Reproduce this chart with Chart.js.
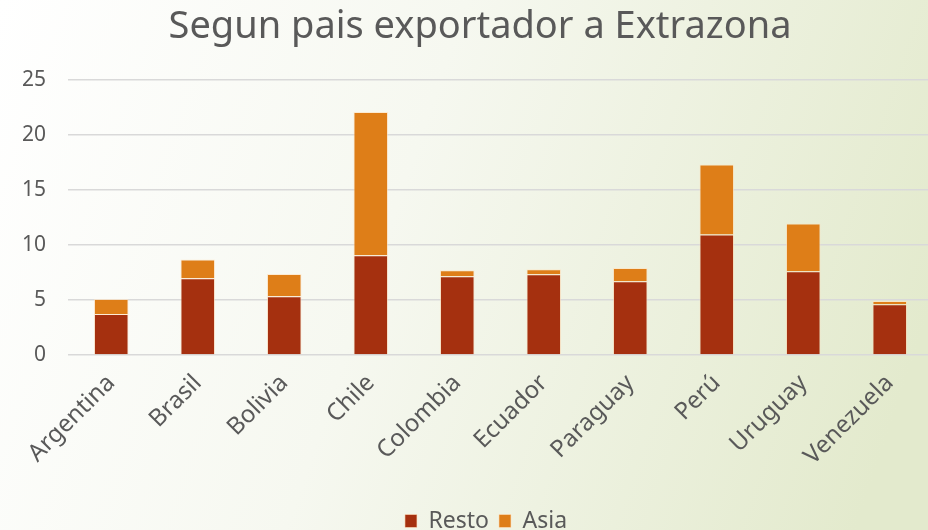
<!DOCTYPE html>
<html>
<head>
<meta charset="utf-8">
<script src="https://cdn.jsdelivr.net/npm/chart.js@4/dist/chart.umd.min.js"></script>
<style>
  html, body { margin: 0; padding: 0; background: #ffffff; }
</style>
</head>
<body>
<canvas id="chart" width="928" height="530"></canvas>
<script>
// ── Data ──────────────────────────────────────────────
var paises = ['Argentina', 'Brasil', 'Bolivia', 'Chile', 'Colombia',
              'Ecuador', 'Paraguay', 'Perú', 'Uruguay', 'Venezuela'];
var resto  = [3.73, 6.96, 5.33, 9.06, 7.15, 7.33, 6.70, 10.94, 7.60, 4.60];
var asia   = [1.36, 1.70, 2.03, 13.00, 0.55, 0.46, 1.20, 6.36, 4.34, 0.30];
var yTicks = [0, 5, 10, 15, 20, 25];

var colorResto = '#a5300f';
var colorAsia  = '#de7e18';
var textColor  = '#595959';
var fontFam    = '"Noto Sans", sans-serif';

// ── Background gradient ───────────────────────────────
var bgPlugin = {
    id: 'bg',
    beforeDraw: function (chart) {
        var c = chart.ctx;
        var g = c.createLinearGradient(0, 0, chart.width, chart.height * 0.6);
        g.addColorStop(0, '#ffffff');
        g.addColorStop(0.45, '#f6f8f0');
        g.addColorStop(1, '#e3eacd');
        c.save();
        c.fillStyle = g;
        c.fillRect(0, 0, chart.width, chart.height);
        c.restore();
    }
};

// ── Small layout nudges (plot runs slightly past right edge, legend lower) ──
var nudgePlugin = {
    id: 'nudge',
    afterLayout: function (chart) {
        var x = chart.scales.x;
        x.right += 5;
        x.width += 5;
        x.configure();
        var lg = chart.legend;
        var shift = 521 - (lg.top + lg.height / 2);
        lg.top += shift;
        lg.bottom += shift;
        lg.left += 22;
        lg.right += 22;
        chart.titleBlock.left += 16;
        chart.titleBlock.right += 16;
    }
};

new Chart(document.getElementById('chart'), {
    type: 'bar',
    data: {
        labels: paises,
        datasets: [
            { label: 'Resto', data: resto, backgroundColor: colorResto,
              borderColor: 'rgba(255,225,190,0.6)', borderWidth: 1 },
            { label: 'Asia',  data: asia,  backgroundColor: colorAsia,
              borderColor: 'rgba(255,225,190,0.6)', borderWidth: 1 }
        ]
    },
    options: {
        responsive: false,
        animation: false,
        devicePixelRatio: 1,
        datasets: { bar: { barPercentage: 0.4, categoryPercentage: 1 } },
        plugins: {
            title: {
                display: true,
                text: 'Segun pais exportador a Extrazona',
                color: textColor,
                font: { family: fontFam, size: 38, weight: 'normal' },
                padding: { top: 4, bottom: 30 }
            },
            legend: {
                position: 'bottom',
                labels: {
                    color: textColor,
                    font: { family: fontFam, size: 23 },
                    boxWidth: 12, boxHeight: 13, padding: 10
                }
            },
            tooltip: { enabled: false }
        },
        scales: {
            x: {
                stacked: true,
                grid: { display: false },
                border: { display: false },
                ticks: {
                    color: textColor,
                    font: { family: fontFam, size: 24 },
                    minRotation: 45, maxRotation: 45,
                    autoSkip: false,
                    padding: 6
                },
                afterFit: function (s) { s.height = 132; }
            },
            y: {
                stacked: true,
                min: 0, max: 25,
                afterBuildTicks: function (s) {
                    s.ticks = yTicks.map(function (v) { return { value: v }; });
                },
                grid: { color: '#d9d9d9', lineWidth: 1.5, drawTicks: false },
                border: { display: false },
                ticks: {
                    color: textColor,
                    font: { family: fontFam, size: 21 },
                    padding: 22
                },
                afterFit: function (s) { s.width = 68; }
            }
        }
    },
    plugins: [bgPlugin, nudgePlugin]
});
</script>
</body>
</html>
